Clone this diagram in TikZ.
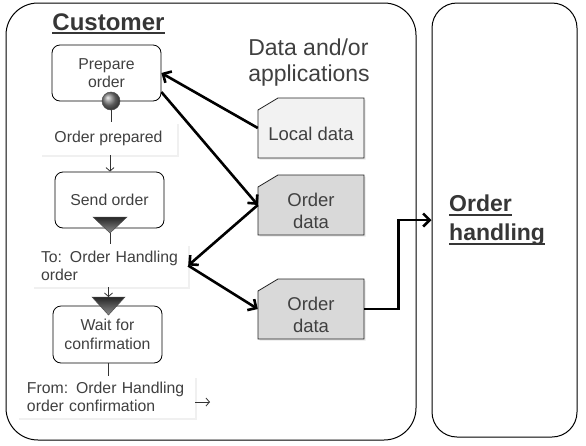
\documentclass[tikz,border=0pt]{standalone}
\usepackage{fontspec}
\setmainfont{Liberation Sans}
\usetikzlibrary{arrows.meta,shadows}
\definecolor{txt}{HTML}{404040}
\definecolor{ttl}{HTML}{363636}
\definecolor{ldfill}{HTML}{F2F2F2}
\definecolor{odfill}{HTML}{D9D9D9}
\newcommand{\myunder}[1]{\setbox0=\hbox{#1}\rlap{\rule[-4pt]{\wd0}{2.2pt}}\box0}
\begin{document}
\begin{tikzpicture}[x=1pt,y=-1pt,
  container/.style={draw=black, line width=1pt, inner sep=0pt},
  act/.style={draw=black, line width=0.8pt, rounded corners=8pt, minimum width=109pt, minimum height=56pt, align=center, text=txt, font=\fontsize{15.8}{18.5}\selectfont, inner sep=2pt},
  obj/.style={fill=white, drop shadow={opacity=0.12, shadow xshift=1.5pt, shadow yshift=-1.5pt}, text=txt, font=\fontsize{15.8}{18}\selectfont, inner xsep=9pt, inner ysep=3pt},
  ballshape/.style={circle, minimum size=18pt, inner sep=0pt, draw=black!70, line width=0.5pt, shading=ball, ball color=black!50},
  tri/.style={draw=black!70, line width=0.5pt, top color=black!85, bottom color=black!45},
  datashape/.style={draw=black!85, line width=0.8pt, drop shadow={opacity=0.2, shadow xshift=1.5pt, shadow yshift=-1.5pt}},
  dataanchor/.style={minimum width=106pt, minimum height=60pt, inner sep=0pt},
  datatext/.style={yshift=-6pt, align=center, text=txt, font=\fontsize{18.5}{22}\selectfont, inner sep=0pt},
  thinline/.style={line width=0.8pt, draw=black!80},
  thinarr/.style={thinline, -{Straight Barb[length=3.5pt,width=8pt]}},
  thickarr/.style={line width=2.6pt, -{Straight Barb[length=6.5pt,width=13pt]}},
  heading/.style={text=ttl, font=\fontsize{23}{29}\selectfont\bfseries, inner sep=0pt}
]
\useasboundingbox (0,0) rectangle (586,445);

% containers
\node[container, rounded corners=32pt, minimum width=410pt, minimum height=437pt] (cust) at (211,221.5) {};
\node[container, rounded corners=25pt, minimum width=145pt, minimum height=434pt] (oh) at (504.5,220) {};

\node[heading, font=\fontsize{24}{29}\selectfont\bfseries, anchor=base] (custt) at (108.5,30) {\myunder{Customer}};
\node[heading, anchor=west, align=left] (oht) at (449,220.5) {\myunder{Order}\\\myunder{handling}};
\node[text=txt, font=\fontsize{23}{26}\selectfont, align=left, inner sep=0pt] (dapp) at (309,63) {Data and/or\\applications};

% activities
\node[act] (pre) at (106.5,73) {Prepare\\order};
\node[ballshape] (ball) at (111,101) {};
\node[obj, minimum width=137pt, minimum height=33pt, align=center] (op) at (108.5,138.5) {Order prepared};
\node[act] (send) at (109.5,200) {Send order};
\path[tri] (93,217) -- (127,217) -- (110,233) -- cycle;
\coordinate (t1) at (110,233);
\node[obj, minimum height=43pt, text width=138pt, align=left] (to) at (110,265.5) {To: Order Handling\\order};
\node[act, minimum height=57pt] (wait) at (107.5,334.5) {Wait for\\confirmation};
\path[tri] (92,297) -- (125,297) -- (108.5,315) -- cycle;
\coordinate (t2) at (108.5,297);
\node[obj, minimum height=42pt, text width=158pt, inner xsep=10pt, align=left] (from) at (106,397) {From: Order Handling\\order confirmation};
\coordinate (fromend) at (210,402);

% data objects
\path[datashape, fill=ldfill] (258,110) -- (278,98) -- (364,98) -- (364,158) -- (258,158) -- cycle;
\node[dataanchor, label={[datatext]center:{Local data}}] (ld) at (311,128) {};
\path[datashape, fill=odfill] (258,187) -- (278,175) -- (364,175) -- (364,235) -- (258,235) -- cycle;
\node[dataanchor, label={[datatext]center:{Order\\data}}] (od1) at (311,205) {};
\path[datashape, fill=odfill] (258,291) -- (278,279) -- (364,279) -- (364,339) -- (258,339) -- cycle;
\node[dataanchor, label={[datatext]center:{Order\\data}}] (od2) at (311,309) {};

% thin flow
\draw[thinline] (ball.south) -- (ball.south |- op.north);
\draw[thinarr] (op.south -| t1) -- (send.north -| t1);
\draw[thinline] (t1) -- (t1 |- to.north);
\draw[thinarr] (to.south -| t2) -- (t2);
\draw[thinline] (wait.south -| t2) -- (from.north -| t2);
\draw[thinarr] (from.east |- fromend) -- (fromend);

% thick arrows
\draw[thickarr] (ld.west) -- (pre.east);
\draw[thickarr] ([yshift=-19pt]pre.east) -- (od1.west);
\draw[thickarr] (od1.west) -- (to.east);
\draw[thickarr] (to.east) -- (od2.west);
\draw[thickarr] (od2.east) -- ++(34,0) |- (oh.west);
\end{tikzpicture}
\end{document}
